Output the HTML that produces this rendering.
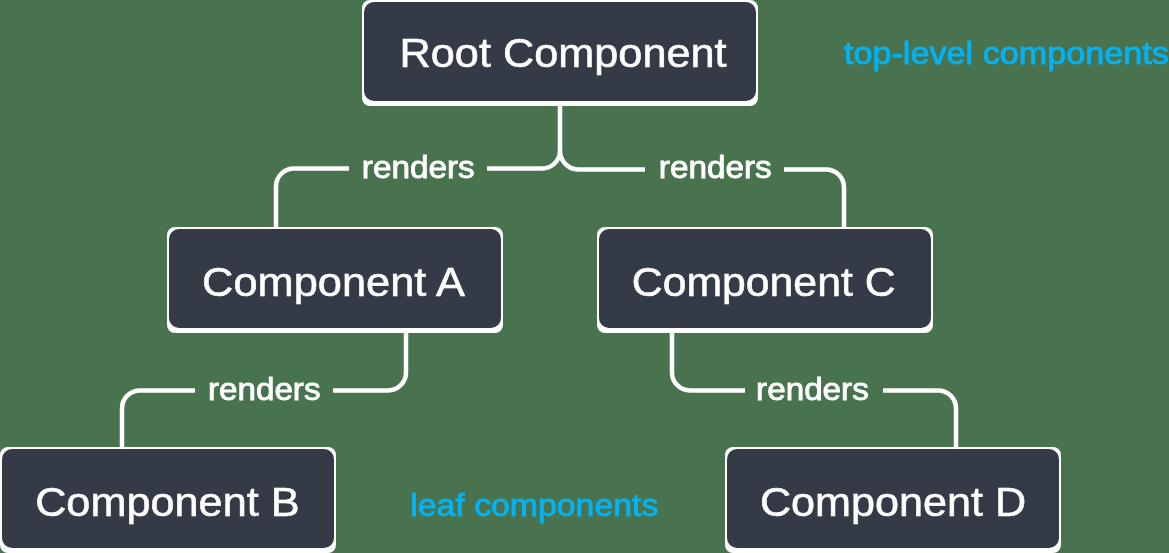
<!DOCTYPE html>
<html><head><meta charset="utf-8"><title>Component tree</title>
<style>
html,body{margin:0;padding:0;width:1169px;height:553px;overflow:hidden;background:#49734f;}
svg{display:block;}
.ov{position:absolute;left:0;top:0;will-change:transform;}
text{font-family:"Liberation Sans",sans-serif;font-weight:400;}
</style></head><body>
<svg width="1169" height="553" viewBox="0 0 1169 553">
<rect width="1169" height="553" fill="#49734f"/>
<g fill="none" stroke="#fff" stroke-width="4.5" stroke-linecap="butt"><path d="M560 106 V150.5 A18 18 0 0 1 542 168.5 H487"/><path d="M560 150.5 A18 18.90 0 0 0 578 169.4 H645"/><path d="M349 168.5 H294 A18 18 0 0 0 276 186.5 V227"/><path d="M784 169.4 H826 A18 18 0 0 1 844 187.4 V227"/><path d="M406 333 V372.4 A18 18 0 0 1 388 390.4 H333"/><path d="M195 390.4 H140 A18 18 0 0 0 122 408.4 V447"/><path d="M672 333 V372.4 A18 18 0 0 0 690 390.4 H745"/><path d="M883 390.4 H938 A18 18 0 0 1 956 408.4 V447"/></g>
<rect x="362" y="0" width="396" height="106" rx="8" fill="#fff"/><rect x="364" y="2" width="392" height="99" rx="10" fill="#343a46"/><rect x="167" y="227" width="336" height="106" rx="8" fill="#fff"/><rect x="169" y="229" width="332" height="99" rx="10" fill="#343a46"/><rect x="597" y="227" width="336" height="106" rx="8" fill="#fff"/><rect x="599" y="229" width="332" height="99" rx="10" fill="#343a46"/><rect x="0" y="447" width="336" height="106" rx="8" fill="#fff"/><rect x="2" y="449" width="332" height="99" rx="10" fill="#343a46"/><rect x="725" y="447" width="336" height="106" rx="8" fill="#fff"/><rect x="727" y="449" width="332" height="99" rx="10" fill="#343a46"/>
</svg>
<svg class="ov" width="1169" height="553" viewBox="0 0 1169 553">
<text transform="translate(399.53,66.82) scale(1.0684,1)" font-size="40.51" fill="#fff" stroke="#fff" stroke-width="0.55">Root Component</text>
<text transform="translate(202.12,295.91) scale(1.0508,1)" font-size="41.27" fill="#fff" stroke="#fff" stroke-width="0.55">Component A</text>
<text transform="translate(631.75,295.91) scale(1.0363,1)" font-size="41.27" fill="#fff" stroke="#fff" stroke-width="0.55">Component C</text>
<text transform="translate(35.13,516.21) scale(1.0483,1)" font-size="41.27" fill="#fff" stroke="#fff" stroke-width="0.55">Component B</text>
<text transform="translate(759.93,516.21) scale(1.0456,1)" font-size="41.27" fill="#fff" stroke="#fff" stroke-width="0.55">Component D</text>
<text transform="translate(361.79,177.61) scale(1.0779,1)" font-size="30.90" fill="#fff" stroke="#fff" stroke-width="0.85">renders</text>
<text transform="translate(658.79,177.81) scale(1.0779,1)" font-size="30.90" fill="#fff" stroke="#fff" stroke-width="0.85">renders</text>
<text transform="translate(208.00,399.51) scale(1.0740,1)" font-size="30.90" fill="#fff" stroke="#fff" stroke-width="0.85">renders</text>
<text transform="translate(756.10,399.51) scale(1.0760,1)" font-size="30.90" fill="#fff" stroke="#fff" stroke-width="0.85">renders</text>
<text transform="translate(843.95,63.98) scale(1.0801,1)" font-size="31.66" fill="#02b3f6" stroke="#02b3f6" stroke-width="0.85">top-level components</text>
<text transform="translate(410.25,515.88) scale(1.0497,1)" font-size="32.21" fill="#02b3f6" stroke="#02b3f6" stroke-width="0.85">leaf components</text>
</svg>
</body></html>
